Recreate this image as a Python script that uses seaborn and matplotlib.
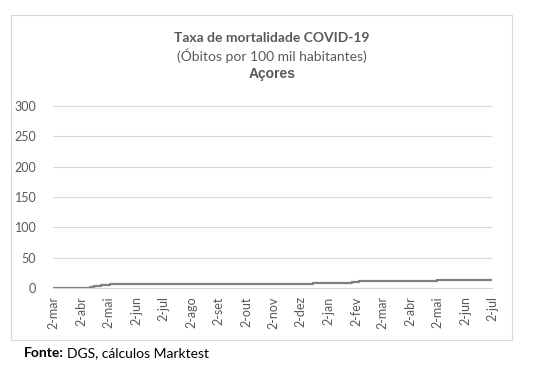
import pandas as pd
import seaborn as sns
import matplotlib.pyplot as plt
from matplotlib.patches import Rectangle

# cumulative deaths per 100k inhabitants, Azores (step changes)
dates = ['2020-03-02', '2020-04-08', '2020-04-12', '2020-04-16', '2020-04-20',
         '2020-04-24', '2020-04-28', '2020-05-04', '2020-05-12', '2020-11-20',
         '2020-12-15', '2021-01-10', '2021-01-28', '2021-02-05', '2021-04-28',
         '2021-05-02', '2021-07-02']
rate = [0, 0, 1.2, 2.5, 3.7, 4.5, 5.4, 5.8, 6.2, 6.6,
        8.2, 9.0, 10.3, 11.5, 12.0, 13.2, 13.6]

months_pt = ['jan', 'fev', 'mar', 'abr', 'mai', 'jun',
             'jul', 'ago', 'set', 'out', 'nov', 'dez']
tick_dates = pd.date_range('2020-03-01', '2021-07-01', freq='MS') + pd.Timedelta(days=1)
yticks = [0, 50, 100, 150, 200, 250, 300]

df = pd.DataFrame({'date': pd.to_datetime(dates), 'rate': rate})

sns.set_style('white')
plt.rcParams['font.family'] = ['Lato', 'DejaVu Sans']

fig = plt.figure(figsize=(5.4, 3.75), dpi=100)
ax = fig.add_axes([53 / 540, 87 / 375, 439 / 540, 182 / 375])

sns.lineplot(x='date', y='rate', data=df, ax=ax, color='#7f7f7f',
             linewidth=1.6, drawstyle='steps-post')

ax.set_xlim(pd.Timestamp('2020-03-02'), pd.Timestamp('2021-07-02'))
ax.set_ylim(0, 300)
ax.set_yticks(yticks)
ax.yaxis.grid(True, color='#d9d9d9', linewidth=0.8)
ax.set_axisbelow(True)

ax.set_xticks(tick_dates)
ax.set_xticklabels(['2-' + months_pt[d.month - 1] for d in tick_dates], rotation=90)
ax.tick_params(axis='x', length=4, color='#d9d9d9', labelsize=9,
               labelcolor='#595959', pad=2)
ax.tick_params(axis='y', length=0, labelsize=9, labelcolor='#595959', pad=12)

for side in ['top', 'right', 'left']:
    ax.spines[side].set_visible(False)
ax.spines['bottom'].set_color('#d9d9d9')
ax.set_xlabel('')
ax.set_ylabel('')

fig.patches.append(Rectangle((11 / 540, 35 / 375), 501 / 540, 325 / 375,
                             transform=fig.transFigure, fill=False,
                             edgecolor='#d9d9d9', linewidth=0.8))

cx = 272 / 540
fig.text(cx, 1 - 38 / 375, 'Taxa de mortalidade COVID-19', ha='center', va='center',
         fontsize=10, fontweight='bold', color='#595959')
fig.text(cx, 1 - 56 / 375, '(Óbitos por 100 mil habitantes)', ha='center', va='center',
         fontsize=10, color='#595959')
fig.text(cx, 1 - 74 / 375, 'Açores', ha='center', va='center', fontsize=10,
         fontweight='bold', color='#595959', family=['Liberation Sans', 'DejaVu Sans'])

t = fig.text(24 / 540, 1 - 353 / 375, 'Fonte:', ha='left', va='center',
             fontsize=10, fontweight='bold', color='black')
fig.canvas.draw()
bb = t.get_window_extent()
fig.text(bb.x1 / 540 + 3 / 540, 1 - 353 / 375, 'DGS, cálculos Marktest', ha='left',
         va='center', fontsize=10, color='black')

plt.savefig('out.png', dpi=100)
